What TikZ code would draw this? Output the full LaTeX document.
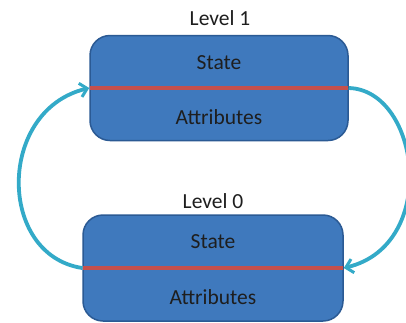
\documentclass[tikz,border=0pt]{standalone}
\usepackage{fontspec}
\setmainfont{Carlito}
\usetikzlibrary{arrows.meta}
\definecolor{boxfill}{HTML}{3F79BD}
\definecolor{boxedge}{HTML}{2B5A94}
\definecolor{redline}{HTML}{C4504D}
\definecolor{teal}{HTML}{33AAC8}
\definecolor{txt}{HTML}{1E1E1E}
\tikzset{
  levelbox/.style={draw=boxedge, line width=1.5pt, fill=boxfill, rounded corners=20pt, inner sep=0pt},
  lbl/.style={font=\fontsize{21.5}{23}\selectfont, text=txt, inner sep=0pt, anchor=center},
  sep/.style={draw=redline, line width=4pt},
  flow/.style={draw=teal, line width=3.8pt, -{Straight Barb[length=7pt,width=14pt,line width=3pt]}},
}
\begin{document}
\begin{tikzpicture}[x=1pt,y=-1pt]
\clip (0,0) rectangle (406,322);
\fill[white] (0,0) rectangle (406,322);
% boxes
\node[levelbox, minimum width=258pt, minimum height=105pt] (box1) at (219,88) {};
\node[levelbox, minimum width=260pt, minimum height=106pt] (box2) at (213,268) {};
% separators
\draw[sep] ([xshift=0.8pt]box1.west) -- ([xshift=-0.8pt]box1.east);
\draw[sep] ([xshift=0.8pt]box2.west) -- ([xshift=-0.8pt]box2.east);
% labels
\node[lbl] (l1) at (220,18) {Level 1};
\node[lbl] (l0) at (213,201) {Level 0};
\node[lbl] (s1) at (219,63) {State};
\node[lbl] (a1) at (219,117) {Attributes};
\node[lbl] (s0) at (213,242) {State};
\node[lbl] (a0) at (213,297) {Attributes};
% arrows
\draw[flow] (box2.west) .. controls (-3,255) and (-3,110) .. (box1.west);
\draw[flow] (box1.east) .. controls (420,90) and (440,245) .. (box2.east);
\end{tikzpicture}
\end{document}
